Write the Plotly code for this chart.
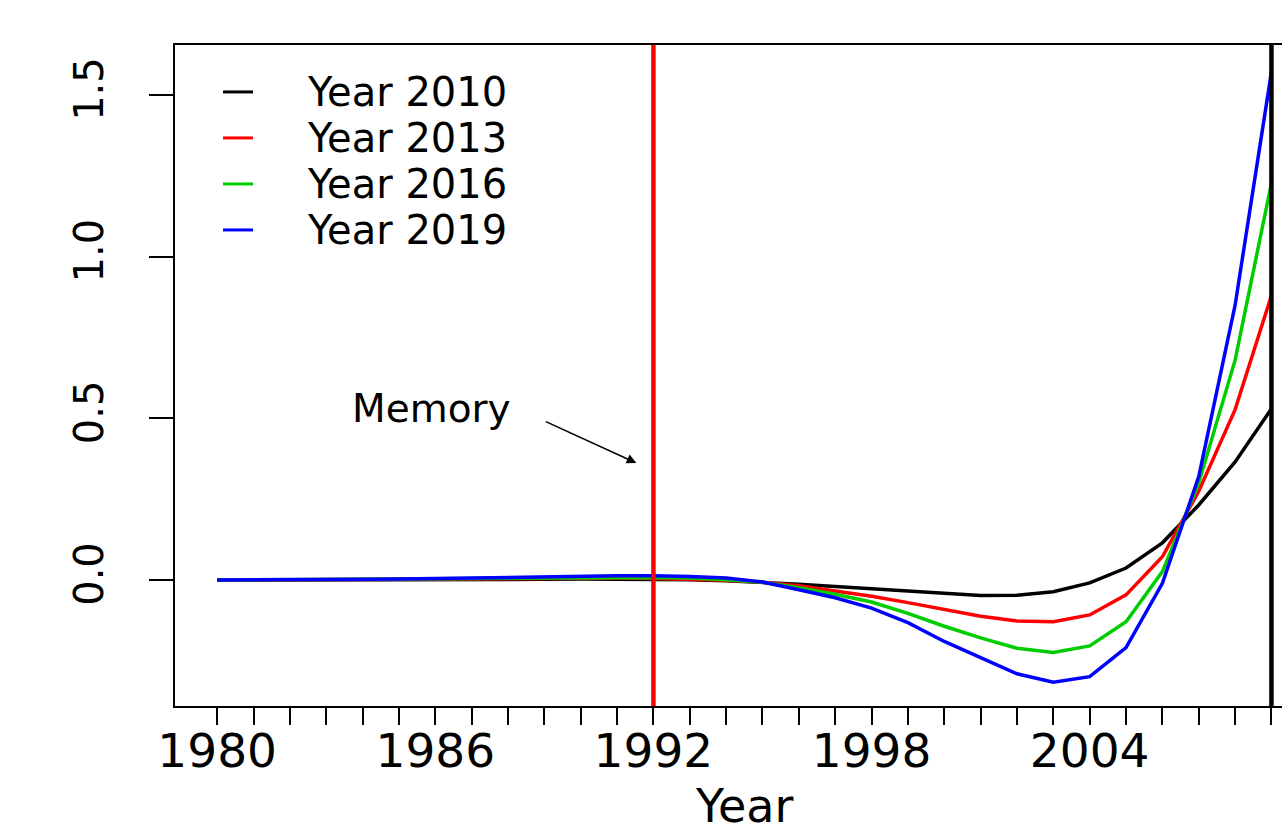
import plotly.graph_objects as go

# Years covered by the estimates
years = list(range(1980, 2010))

# Estimated effect curves, one per vintage
year_2010 = [0.000, 0.000, 0.000, 0.000, 0.001, 0.001, 0.001, 0.002, 0.002, 0.002,
             0.003, 0.003, 0.002, 0.001, -0.002, -0.007, -0.013, -0.020, -0.027, -0.035,
             -0.042, -0.048, -0.047, -0.036, -0.009, 0.037, 0.115, 0.232, 0.365, 0.530]
year_2013 = [0.000, 0.000, 0.000, 0.001, 0.001, 0.002, 0.003, 0.004, 0.005, 0.005,
             0.006, 0.006, 0.005, 0.003, -0.001, -0.007, -0.018, -0.034, -0.050, -0.070,
             -0.090, -0.112, -0.127, -0.129, -0.108, -0.046, 0.072, 0.275, 0.527, 0.880]
year_2016 = [0.000, 0.000, 0.000, 0.001, 0.002, 0.003, 0.004, 0.005, 0.006, 0.007,
             0.008, 0.009, 0.008, 0.006, 0.001, -0.007, -0.024, -0.044, -0.068, -0.103,
             -0.143, -0.179, -0.211, -0.224, -0.204, -0.129, 0.026, 0.300, 0.680, 1.228]
year_2019 = [0.000, 0.000, 0.001, 0.001, 0.002, 0.003, 0.005, 0.007, 0.009, 0.011,
             0.012, 0.013, 0.013, 0.011, 0.006, -0.006, -0.030, -0.055, -0.087, -0.132,
             -0.190, -0.241, -0.290, -0.316, -0.299, -0.209, -0.010, 0.320, 0.850, 1.572]

series_names = ["Year 2010", "Year 2013", "Year 2016", "Year 2019"]
series_values = [year_2010, year_2013, year_2016, year_2019]
series_colors = ["#000000", "#FF0000", "#00CD00", "#0000FF"]

# Axis ticks
x_tick_vals = years
x_tick_text = [str(y) if (y - 1980) % 6 == 0 else "" for y in years]
y_tick_vals = [0.0, 0.5, 1.0, 1.5]
y_tick_text = ["0.0", "0.5", "1.0", "1.5"]

# Reference markers
memory_year = 1992
last_year = 2009

FONT = "DejaVu Sans"

fig = go.Figure()
for name, vals, col in zip(series_names, series_values, series_colors):
    fig.add_trace(go.Scatter(
        x=years, y=vals, mode="lines", name=name, showlegend=False,
        line=dict(color=col, width=3.5),
    ))

# Key in the top-left corner: a short coloured stroke and a label per series
key_top = 0.929       # paper y of the first row
key_step = 0.0696     # paper height of one row
for i, (name, col) in enumerate(zip(series_names, series_colors)):
    ky = key_top - i * key_step
    fig.add_shape(type="line", xref="paper", yref="paper",
                  x0=0.0434, x1=0.0705, y0=ky, y1=ky,
                  line=dict(color=col, width=3))
    fig.add_annotation(xref="paper", yref="paper", x=0.1175, y=ky,
                       xanchor="left", yanchor="middle", text=name,
                       showarrow=False,
                       font=dict(family=FONT, size=40, color="black"))

# Vertical reference lines
fig.add_shape(type="line", x0=memory_year, x1=memory_year, y0=0, y1=1,
              xref="x", yref="paper", line=dict(color="#FF0000", width=4.5))
fig.add_shape(type="line", x0=last_year, x1=last_year, y0=0, y1=1,
              xref="x", yref="paper", line=dict(color="#000000", width=4.5))

# "Memory" label with arrow pointing at the memory line
fig.add_annotation(x=1985.9, y=0.532, xref="x", yref="y", text="Memory",
                   showarrow=False, font=dict(family=FONT, size=39, color="black"))
fig.add_annotation(x=1991.53, y=0.362, ax=1989.0, ay=0.492, xref="x", yref="y",
                   axref="x", ayref="y", text="", showarrow=True,
                   arrowhead=2, arrowsize=1.2, arrowwidth=1.6, arrowcolor="black")

# Axis title placed under the centre of the full frame
fig.add_annotation(x=1994.49, y=-0.152, xref="x", yref="paper", text="Year",
                   showarrow=False, yanchor="middle",
                   font=dict(family=FONT, size=46, color="black"))

fig.update_layout(
    width=1282, height=828,
    margin=dict(l=175, r=0, t=45, b=122),
    paper_bgcolor="white", plot_bgcolor="white",
    font=dict(family=FONT, color="black"),
    showlegend=False,
    xaxis=dict(range=[1978.84, 2009.29], showgrid=False, zeroline=False,
               showline=True, linecolor="black", linewidth=1.5, mirror=True,
               ticks="outside", ticklen=17, tickwidth=1.5, tickcolor="black",
               tickvals=x_tick_vals, ticktext=x_tick_text,
               tickfont=dict(family=FONT, size=47, color="black"),
               ticklabelstandoff=-14),
    yaxis=dict(range=[-0.3897, 1.6548], showgrid=False, zeroline=False,
               showline=True, linecolor="black", linewidth=1.5, mirror=False,
               ticks="outside", ticklen=24, tickwidth=1.5, tickcolor="black",
               tickvals=y_tick_vals, ticktext=y_tick_text, tickangle=-90,
               tickfont=dict(family=FONT, size=40, color="black"),
               ticklabelstandoff=30),
)

fig.write_html("out.html")
